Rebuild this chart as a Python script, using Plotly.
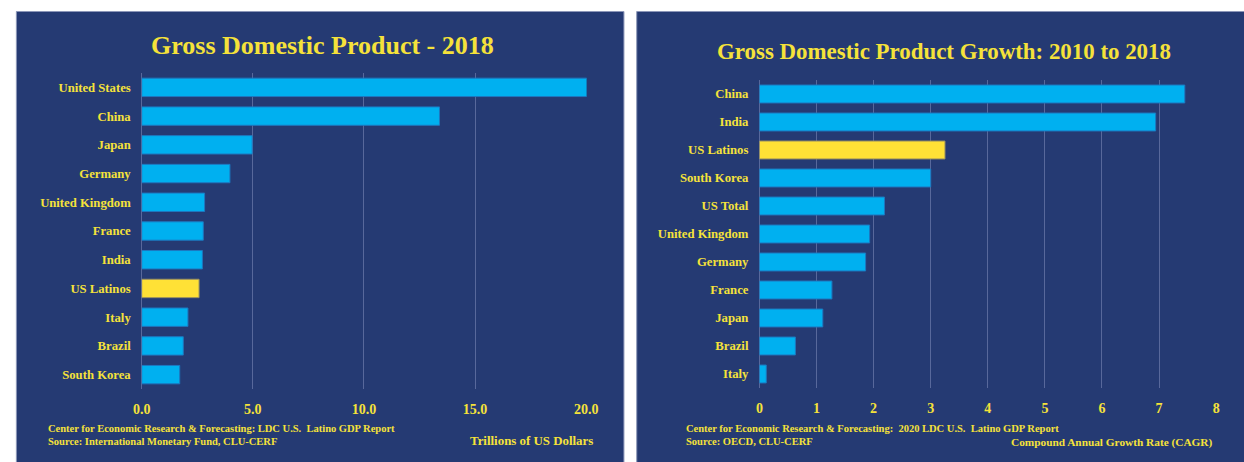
import plotly.graph_objects as go

# ---------------- data ----------------
gdp_countries = ["United States", "China", "Japan", "Germany", "United Kingdom", "France",
                 "India", "US Latinos", "Italy", "Brazil", "South Korea"]
gdp_values = [20.5, 13.4, 4.97, 3.97, 2.83, 2.77, 2.73, 2.58, 2.08, 1.87, 1.71]
gdp_ticks = [0, 5, 10, 15, 20]
gdp_ticklabels = ["0.0", "5.0", "10.0", "15.0", "20.0"]

growth_countries = ["China", "India", "US Latinos", "South Korea", "US Total", "United Kingdom",
                    "Germany", "France", "Japan", "Brazil", "Italy"]
growth_values = [7.45, 6.94, 3.25, 3.0, 2.19, 1.93, 1.86, 1.27, 1.11, 0.63, 0.12]
growth_ticks = [0, 1, 2, 3, 4, 5, 6, 7, 8]
growth_ticklabels = ["0", "1", "2", "3", "4", "5", "6", "7", "8"]

HIGHLIGHT = "US Latinos"

# ---------------- style ----------------
W, H = 1244, 462
NAVY = "#253a73"
BLUE = "#00b0f0"
YELLOW = "#ffe136"
TEXT = "#f5e23a"
GRID = "rgba(150,162,205,0.45)"
SERIF = "Liberation Serif"


def fx(px):
    return px / W


def fy(py):
    return 1 - py / H


def colors(cats):
    return [YELLOW if c == HIGHLIGHT else BLUE for c in cats]


def edges(cats):
    return ["#9a9060" if c == HIGHLIGHT else "#1d78c0" for c in cats]


fig = go.Figure()
fig.add_trace(go.Bar(x=gdp_values, y=gdp_countries, orientation="h",
                     marker=dict(color=colors(gdp_countries),
                                 line=dict(color=edges(gdp_countries), width=1)),
                     xaxis="x", yaxis="y", showlegend=False, hoverinfo="x+y"))
fig.add_trace(go.Bar(x=growth_values, y=growth_countries, orientation="h",
                     marker=dict(color=colors(growth_countries),
                                 line=dict(color=edges(growth_countries), width=1)),
                     xaxis="x2", yaxis="y2", showlegend=False, hoverinfo="x+y"))

xcommon = dict(showgrid=True, gridcolor=GRID, gridwidth=1, zeroline=True, zerolinecolor=GRID,
               zerolinewidth=1, showline=False, ticks="", ticklabelstandoff=10,
               tickfont=dict(family=SERIF, size=14, color=TEXT, weight="bold"), fixedrange=True)
ycommon = dict(type="category", autorange="reversed", showgrid=False, zeroline=False,
               showline=False, ticks="", ticklabelstandoff=10,
               tickfont=dict(family=SERIF, size=12.7, color=TEXT, weight="bold"), fixedrange=True)

fig.update_layout(
    width=W, height=H,
    margin=dict(l=0, r=0, t=0, b=0),
    paper_bgcolor="white", plot_bgcolor="rgba(0,0,0,0)",
    bargap=0.36,
    xaxis=dict(domain=[fx(135), fx(587.5)], range=[0, 20.02], tickvals=gdp_ticks,
               ticktext=gdp_ticklabels, anchor="y", **xcommon),
    yaxis=dict(domain=[fy(389), fy(73)], categoryarray=gdp_countries, anchor="x", **ycommon),
    xaxis2=dict(domain=[fx(763.3), fx(1228.5)], range=[0, 8.01], tickvals=growth_ticks,
                ticktext=growth_ticklabels, anchor="y2", **xcommon),
    yaxis2=dict(domain=[fy(388), fy(80)], categoryarray=growth_countries, anchor="x2", **ycommon),
)

# panels
fig.add_shape(type="rect", xref="paper", yref="paper", x0=fx(7.5), x1=fx(625.5), y0=fy(470),
              y1=fy(11.5), fillcolor=NAVY, line=dict(color="#8c96b8", width=1), layer="below")
fig.add_shape(type="rect", xref="paper", yref="paper", x0=fx(638.5), x1=fx(1260), y0=fy(470),
              y1=fy(11.5), fillcolor=NAVY, line=dict(color="#8c96b8", width=1), layer="below")


def note(text, x, y, size, anchor="left", family=SERIF):
    fig.add_annotation(text=text, xref="paper", yref="paper", x=fx(x), y=fy(y),
                       xanchor=anchor, yanchor="middle", showarrow=False,
                       font=dict(family=family, size=size, color=TEXT))


note("<b>Gross Domestic Product - 2018</b>", 319, 46, 26, "center")
note("<b>Gross Domestic Product Growth: 2010 to 2018</b>", 951, 52, 22.9, "center")

note("<b>Center for Economic Research &amp; Forecasting: LDC U.S.  Latino GDP Report</b>", 37.5, 428, 10.5)
note("<b>Source: International Monetary Fund, CLU-CERF</b>", 37.5, 441, 10.5)
note("<b>Trillions of US Dollars</b>", 596, 441, 12.9, "right")

note("<b>Center for Economic Research &amp; Forecasting:  2020 LDC U.S.  Latino GDP Report</b>", 687, 428, 10.5)
note("<b>Source: OECD, CLU-CERF</b>", 687, 441, 10.5)
note("<b>Compound Annual Growth Rate (CAGR)</b>", 1227, 442.5, 11.3, "right")

# remove the default page margin so the 1244x462 figure fills the window exactly
fig.write_html("out.html", config={"displayModeBar": False},
               post_script="document.body.style.margin='0';document.body.style.overflow='hidden';")
